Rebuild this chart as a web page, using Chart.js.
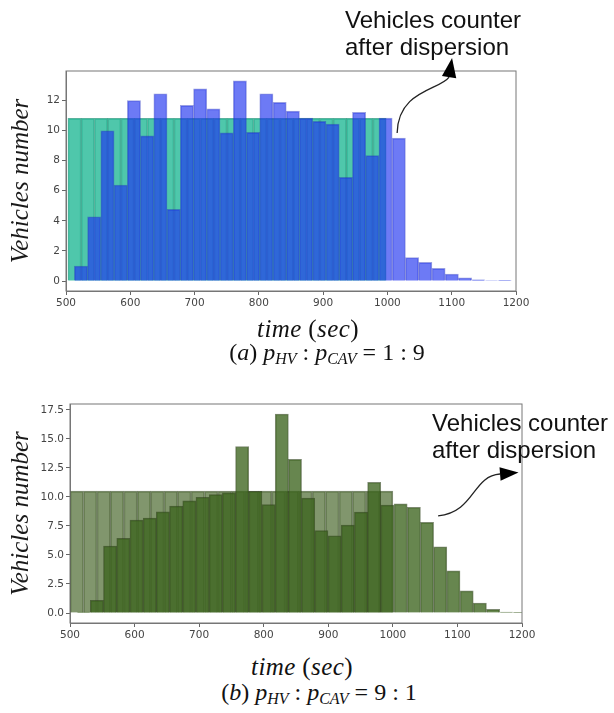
<!DOCTYPE html>
<html>
<head>
<meta charset="utf-8">
<script src="https://cdn.jsdelivr.net/npm/chart.js@4"></script>
<style>
  html, body { margin: 0; padding: 0; background: #fff; }
  body { width: 614px; height: 713px; position: relative; overflow: hidden; }
  canvas { position: absolute; left: 0; }
  #chartA { top: 0; }
  #chartB { top: 380px; }
  .note { position: absolute; font-family: "Liberation Sans", Arial, sans-serif; font-size: 24px; line-height: 27px; color: #111; white-space: nowrap; }
  .xtitle, .caption { position: absolute; font-family: "Liberation Serif", serif; font-size: 25px; color: #111; white-space: nowrap; transform: translate(-50%, -50%); }
  .xtitle { letter-spacing: 0.4px; }
  .caption { font-size: 24px; }
  .caption sub { font-size: 16px; font-style: italic; vertical-align: -4px; }
</style>
</head>
<body>
<canvas id="chartA" width="614" height="320"></canvas>
<canvas id="chartB" width="614" height="270"></canvas>

<div class="note" style="left:345px;top:6px">Vehicles counter<br>after dispersion</div>
<div class="xtitle" style="left:308px;top:329px"><i>time</i> (<i>sec</i>)</div>
<div class="caption" style="left:327px;top:353px">(<i>a</i>) <i>p</i><sub>HV</sub> : <i>p</i><sub>CAV</sub> = 1 : 9</div>

<div class="note" style="left:432px;top:409px">Vehicles counter<br>after dispersion</div>
<div class="xtitle" style="left:302px;top:667px"><i>time</i> (<i>sec</i>)</div>
<div class="caption" style="left:319px;top:693px">(<i>b</i>) <i>p</i><sub>HV</sub> : <i>p</i><sub>CAV</sub> = 9 : 1</div>

<script>
// shared x ticks (sec)
const timeTicks = [500, 600, 700, 800, 900, 1000, 1100, 1200];

// (a) p_HV : p_CAV = 1 : 9 -- bin centres (sec) and counts
const binsA_before = [513.3, 533.9, 554.6, 575.2, 595.8, 616.4, 637.1, 657.7, 678.3, 698.9, 719.6, 740.2,
                      760.8, 781.4, 802.1, 822.7, 843.3, 863.9, 884.6, 905.2, 925.8, 946.4, 967.1, 987.7];
const countsA_before = [10.8, 10.8, 10.8, 10.8, 10.8, 10.8, 10.8, 10.8, 10.8, 10.8, 10.8, 10.8,
                        10.8, 10.8, 10.8, 10.8, 10.8, 10.8, 10.8, 10.8, 10.8, 10.8, 10.8, 10.8];
const binsA_after = [523.3, 543.9, 564.5, 585.1, 605.7, 626.3, 646.9, 667.5, 688.1, 708.7, 729.3, 749.9,
                     770.5, 791.1, 811.7, 832.3, 852.9, 873.5, 894.1, 914.7, 935.3, 955.9, 976.5, 997.1,
                     1017.7, 1038.3, 1058.9, 1079.5, 1100.1, 1120.7, 1141.3, 1161.9, 1182.5];
const countsA_after = [1.0, 4.27, 9.98, 6.38, 11.98, 9.64, 12.44, 4.76, 11.67, 12.76, 11.44, 9.84,
                       13.29, 9.87, 12.44, 11.87, 11.29, 10.82, 10.6, 10.42, 6.89, 11.2, 8.33, 10.82,
                       9.49, 1.56, 1.24, 0.84, 0.47, 0.22, 0.09, 0.04, 0.02];
const yTicksA = [0, 2, 4, 6, 8, 10, 12];

// (b) p_HV : p_CAV = 9 : 1
const binsB_before = [510.4, 531.3, 552.1, 572.9, 593.8, 614.6, 635.4, 656.3, 677.1, 697.9, 718.8, 739.6,
                      760.4, 781.3, 802.1, 822.9, 843.8, 864.6, 885.4, 906.3, 927.1, 947.9, 968.8, 989.6];
const countsB_before = [10.5, 10.5, 10.5, 10.5, 10.5, 10.5, 10.5, 10.5, 10.5, 10.5, 10.5, 10.5,
                        10.5, 10.5, 10.5, 10.5, 10.5, 10.5, 10.5, 10.5, 10.5, 10.5, 10.5, 10.5];
const binsB_after = [521.2, 541.7, 562.1, 582.6, 603.0, 623.5, 643.9, 664.4, 684.8, 705.3, 725.7, 746.2,
                     766.6, 787.1, 807.5, 828.0, 848.4, 868.9, 889.3, 909.8, 930.2, 950.7, 971.1, 991.6,
                     1012.0, 1032.5, 1052.9, 1073.4, 1093.8, 1114.3, 1134.7, 1155.2, 1175.6, 1196.1];
const countsB_after = [0.09, 1.09, 5.77, 6.43, 8.0, 8.17, 8.71, 9.2, 9.66, 9.97, 10.2, 10.34,
                       14.34, 10.49, 9.34, 17.14, 13.23, 9.9, 7.1, 6.65, 7.57, 8.69, 11.26, 9.29,
                       9.4, 9.11, 7.8, 5.71, 3.63, 1.91, 0.86, 0.31, 0.09, 0.03];
const yTicksB = [0, 2.5, 5, 7.5, 10, 12.5, 15, 17.5];

// box around the plot area, like matplotlib spines
const frame = {
    id: 'frame',
    afterDraw(chart) {
        const {ctx, chartArea: a} = chart;
        ctx.save();
        ctx.strokeStyle = '#777';
        ctx.lineWidth = 1;
        ctx.strokeRect(a.left, a.top, a.right - a.left, a.bottom - a.top);
        ctx.restore();
    }
};

// curved annotation arrow, points given in data units
const curvedArrow = {
    id: 'curvedArrow',
    afterDraw(chart, args, opts) {
        const {ctx, scales: {x, y}} = chart;
        const px = ([t, v]) => [x.getPixelForValue(t), y.getPixelForValue(v)];
        const p = opts.path.map(px);
        const tip = px(opts.tip);
        ctx.save();
        ctx.strokeStyle = '#222';
        ctx.lineWidth = 1.3;
        ctx.beginPath();
        ctx.moveTo(p[0][0], p[0][1]);
        ctx.bezierCurveTo(p[1][0], p[1][1], p[2][0], p[2][1], p[3][0], p[3][1]);
        ctx.stroke();
        const dx = tip[0] - p[3][0], dy = tip[1] - p[3][1];
        const len = Math.hypot(dx, dy);
        const nx = -dy / len * opts.headWidth / 2, ny = dx / len * opts.headWidth / 2;
        ctx.fillStyle = '#000';
        ctx.beginPath();
        ctx.moveTo(tip[0], tip[1]);
        ctx.lineTo(p[3][0] + nx, p[3][1] + ny);
        ctx.lineTo(p[3][0] - nx, p[3][1] - ny);
        ctx.closePath();
        ctx.fill();
        ctx.restore();
    }
};

const tickFont = {family: 'DejaVu Sans', size: 10.5};

function barSet(bins, counts, axis, bg, border, order) {
    return {
        data: bins.map((t, i) => ({x: t, y: counts[i]})),
        xAxisID: axis,
        backgroundColor: bg,
        borderColor: border,
        borderWidth: 1,
        barPercentage: 1,
        categoryPercentage: 1,
        grouped: false,
        order: order
    };
}

function makeChart(id, datasets, y, arrow) {
    new Chart(document.getElementById(id), {
        type: 'bar',
        data: {datasets: datasets},
        options: {
            responsive: false,
            animation: false,
            events: [],
            layout: {padding: y.padding},
            plugins: {
                legend: {display: false},
                tooltip: {enabled: false},
                curvedArrow: arrow
            },
            scales: {
                x: {
                    type: 'linear', min: 500, max: 1200, offset: false,
                    afterBuildTicks: s => { s.ticks = timeTicks.map(v => ({value: v})); },
                    afterFit: s => { s.height = 20; },
                    grid: {drawOnChartArea: false, tickLength: 4, tickColor: '#666', offset: false},
                    border: {color: '#777'},
                    ticks: {font: tickFont, color: '#444', padding: 2, maxRotation: 0, autoSkip: false,
                            callback: v => String(v)}
                },
                x2: {type: 'linear', min: 500, max: 1200, offset: false, display: false},
                y: {
                    min: y.min, max: y.max,
                    afterBuildTicks: s => { s.ticks = y.ticks.map(v => ({value: v})); },
                    afterFit: s => { s.width = y.width; },
                    grid: {drawOnChartArea: false, tickLength: 4, tickColor: '#666'},
                    border: {color: '#777'},
                    ticks: {font: tickFont, color: '#444', padding: 2, callback: y.format},
                    title: {
                        display: true,
                        text: 'Vehicles number',
                        font: {family: 'Liberation Serif', style: 'italic', size: 25},
                        color: '#1a1a1a',
                        padding: {top: 6, bottom: 0}
                    }
                }
            }
        },
        plugins: [frame, curvedArrow]
    });
}

makeChart('chartA', [
    barSet(binsA_before, countsA_before, 'x', 'rgba(35, 185, 150, 0.8)', 'rgba(20, 145, 115, 0.7)', 2),
    barSet(binsA_after, countsA_after, 'x2', 'rgba(30, 50, 240, 0.65)', 'rgba(30, 45, 190, 0.45)', 1)
], {
    min: -0.66, max: 13.95, ticks: yTicksA, width: 66,
    format: v => String(v),
    padding: {top: 71, right: 98, bottom: 9, left: 0}
}, {
    path: [[1015.1, 9.83], [1016.6, 12.69], [1081.9, 12.69], [1095.9, 13.55]],
    tip: [1100.5, 14.81],
    headWidth: 14.5
});

makeChart('chartB', [
    barSet(binsB_before, countsB_before, 'x', 'rgba(70, 100, 40, 0.68)', 'rgba(50, 70, 30, 0.6)', 2),
    barSet(binsB_after, countsB_after, 'x2', 'rgba(60, 100, 30, 0.78)', 'rgba(40, 60, 20, 0.6)', 1)
], {
    min: -0.86, max: 18.0, ticks: yTicksB, width: 70,
    format: v => v.toFixed(1),
    padding: {top: 24, right: 92, bottom: 7, left: 0}
}, {
    path: [[1070.1, 8.36], [1127.3, 8.70], [1122.7, 11.80], [1166.0, 11.97]],
    tip: [1194.6, 12.10],
    headWidth: 13.4
});
</script>
</body>
</html>
